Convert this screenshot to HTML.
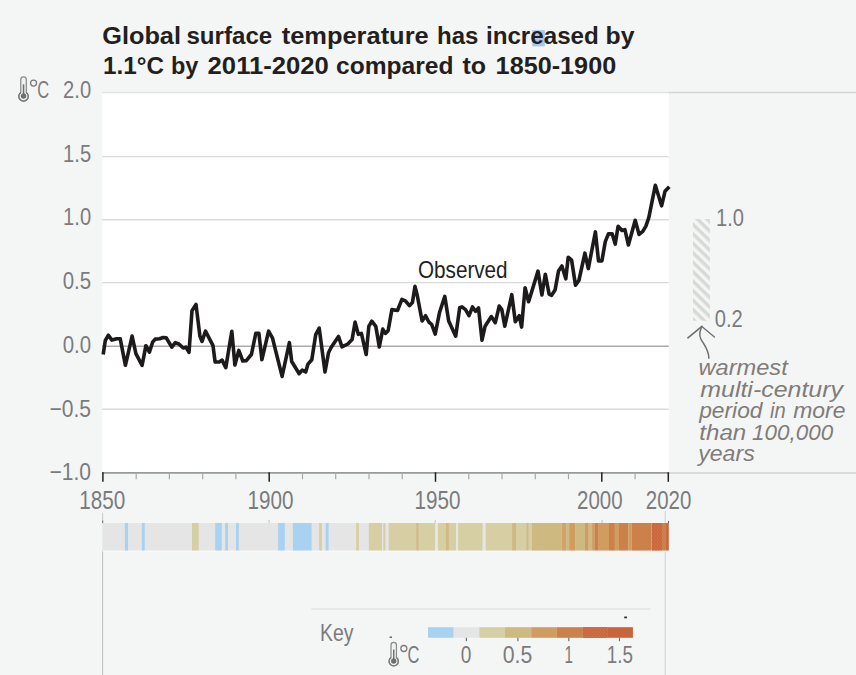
<!DOCTYPE html>
<html><head><meta charset="utf-8"><title>Global surface temperature</title>
<style>
html,body{margin:0;padding:0;background:#f4f6f5;}
body{width:856px;height:675px;overflow:hidden;font-family:"Liberation Sans",sans-serif;}
svg{display:block;}
text{font-family:"Liberation Sans",sans-serif;}
.ax{fill:#7b7b7d;font-size:24px;}
.hand{fill:#817c7a;font-size:22px;font-style:italic;}
.title{fill:#231f20;font-weight:bold;font-size:23px;}
</style></head><body>
<svg width="856" height="675" viewBox="0 0 856 675">
<defs>
<pattern id="hatch" patternUnits="userSpaceOnUse" width="20" height="6.82" patternTransform="translate(693,222.07) rotate(44)">
<rect x="0" y="0" width="20" height="3.4" fill="#d8d8d6"/>
</pattern>
<pattern id="dots" patternUnits="userSpaceOnUse" width="3" height="4" patternTransform="translate(652,523)">
<rect width="3" height="4" fill="#cb653d"/><circle cx="0.8" cy="1" r="0.5" fill="#da9158"/><circle cx="2.3" cy="3" r="0.5" fill="#da9158"/>
</pattern>
</defs>
<rect width="856" height="675" fill="#f4f6f5"/>
<!-- title -->
<rect x="532.3" y="30.2" width="12.5" height="16.2" fill="#a9c5ea"/>
<text class="title" x="102.25" y="44.4" textLength="78.71" lengthAdjust="spacingAndGlyphs">Global</text>
<text class="title" x="186.41" y="44.4" textLength="85.83" lengthAdjust="spacingAndGlyphs">surface</text>
<text class="title" x="281.77" y="44.4" textLength="146.90" lengthAdjust="spacingAndGlyphs">temperature</text>
<text class="title" x="437.13" y="44.4" textLength="41.30" lengthAdjust="spacingAndGlyphs">has</text>
<text class="title" x="485.93" y="44.4" textLength="112.89" lengthAdjust="spacingAndGlyphs">increased</text>
<text class="title" x="605.57" y="44.4" textLength="28.88" lengthAdjust="spacingAndGlyphs">by</text>
<text class="title" x="103.04" y="73.5" textLength="60.91" lengthAdjust="spacingAndGlyphs">1.1°C</text>
<text class="title" x="170.96" y="73.5" textLength="27.42" lengthAdjust="spacingAndGlyphs">by</text>
<text class="title" x="207.62" y="73.5" textLength="121.26" lengthAdjust="spacingAndGlyphs">2011-2020</text>
<text class="title" x="336.07" y="73.5" textLength="117.50" lengthAdjust="spacingAndGlyphs">compared</text>
<text class="title" x="462.46" y="73.5" textLength="23.61" lengthAdjust="spacingAndGlyphs">to</text>
<text class="title" x="495.62" y="73.5" textLength="120.58" lengthAdjust="spacingAndGlyphs">1850-1900</text>
<!-- plot -->
<rect x="102.1" y="92.5" width="566.7" height="380.3" fill="#ffffff"/>

<line x1="102.1" y1="156.6" x2="668.8" y2="156.6" stroke="#dbdbdb" stroke-width="1.4"/>
<line x1="102.1" y1="219.7" x2="668.8" y2="219.7" stroke="#dbdbdb" stroke-width="1.4"/>
<line x1="102.1" y1="282.6" x2="668.8" y2="282.6" stroke="#dbdbdb" stroke-width="1.4"/>
<line x1="102.1" y1="409.3" x2="668.8" y2="409.3" stroke="#dbdbdb" stroke-width="1.4"/>
<line x1="102.1" y1="92.6" x2="668.8" y2="92.6" stroke="#e2e2e2" stroke-width="1.5"/><line x1="668.8" y1="92.6" x2="856" y2="92.6" stroke="#d2d3d3" stroke-width="1.5"/>
<line x1="102.1" y1="346.3" x2="668.8" y2="346.3" stroke="#ababab" stroke-width="1.4"/>
<line x1="102.1" y1="472.8" x2="668.8" y2="472.8" stroke="#999999" stroke-width="1.8"/><line x1="668.8" y1="472.9" x2="856" y2="472.9" stroke="#dadada" stroke-width="2"/>
<line x1="102.9" y1="472.2" x2="102.9" y2="481.8" stroke="#231f20" stroke-width="1.5"/>
<line x1="136.2" y1="472.5" x2="136.2" y2="479.2" stroke="#a8a8a8" stroke-width="1.2"/>
<line x1="169.4" y1="472.5" x2="169.4" y2="479.2" stroke="#a8a8a8" stroke-width="1.2"/>
<line x1="202.7" y1="472.5" x2="202.7" y2="479.2" stroke="#a8a8a8" stroke-width="1.2"/>
<line x1="235.9" y1="472.5" x2="235.9" y2="479.2" stroke="#a8a8a8" stroke-width="1.2"/>
<line x1="269.2" y1="472.2" x2="269.2" y2="481.8" stroke="#231f20" stroke-width="1.5"/>
<line x1="302.5" y1="472.5" x2="302.5" y2="479.2" stroke="#a8a8a8" stroke-width="1.2"/>
<line x1="335.7" y1="472.5" x2="335.7" y2="479.2" stroke="#a8a8a8" stroke-width="1.2"/>
<line x1="369.0" y1="472.5" x2="369.0" y2="479.2" stroke="#a8a8a8" stroke-width="1.2"/>
<line x1="402.2" y1="472.5" x2="402.2" y2="479.2" stroke="#a8a8a8" stroke-width="1.2"/>
<line x1="435.5" y1="472.2" x2="435.5" y2="481.8" stroke="#231f20" stroke-width="1.5"/>
<line x1="468.8" y1="472.5" x2="468.8" y2="479.2" stroke="#a8a8a8" stroke-width="1.2"/>
<line x1="502.0" y1="472.5" x2="502.0" y2="479.2" stroke="#a8a8a8" stroke-width="1.2"/>
<line x1="535.3" y1="472.5" x2="535.3" y2="479.2" stroke="#a8a8a8" stroke-width="1.2"/>
<line x1="568.5" y1="472.5" x2="568.5" y2="479.2" stroke="#a8a8a8" stroke-width="1.2"/>
<line x1="601.8" y1="472.2" x2="601.8" y2="481.8" stroke="#231f20" stroke-width="1.5"/>
<line x1="635.1" y1="472.5" x2="635.1" y2="479.2" stroke="#a8a8a8" stroke-width="1.2"/>
<line x1="668.3" y1="472.2" x2="668.3" y2="481.8" stroke="#231f20" stroke-width="1.5"/>
<polyline points="103.2,354.5 105.3,340.5 108.4,335.2 111.9,340.1 116.6,338.7 120.2,338.7 125.4,365.3 132.1,336.1 135.9,353.6 142.1,365.3 145.9,345.7 149.4,352.2 152.6,342.2 155.2,339.1 159.6,338.7 163.1,337.5 166.2,337.8 171.8,347.1 175.3,342.7 178.9,344.0 183.2,348.0 185.9,347.1 189.0,352.4 192.0,310.7 196.0,304.4 199.9,336.1 202.0,341.3 205.5,331.2 213.0,345.7 215.1,362.0 219.2,362.0 222.1,360.1 225.8,367.6 231.8,331.2 234.9,365.0 238.8,350.4 242.8,361.0 246.3,360.6 251.4,354.5 255.8,333.4 258.9,333.4 261.9,359.7 268.6,331.2 272.4,337.8 282.1,376.4 289.4,342.7 291.7,361.5 299.2,373.7 302.2,370.2 305.7,372.0 308.0,364.1 311.8,359.7 315.7,334.7 319.2,328.2 325.0,372.0 328.5,352.7 331.1,347.5 338.5,336.4 342.0,346.9 347.8,344.0 352.1,339.6 355.1,322.1 358.3,334.3 361.4,333.4 366.2,354.5 368.8,326.4 371.8,321.2 375.8,326.4 379.3,346.9 382.8,329.1 385.4,333.4 388.1,330.8 391.9,309.6 397.5,310.5 401.9,299.4 405.4,300.8 409.4,305.7 412.4,302.6 415.0,286.4 417.1,294.7 422.1,321.0 425.6,315.7 428.7,321.8 431.7,324.5 435.2,334.1 439.6,312.2 444.8,296.4 448.7,321.0 455.7,336.2 459.7,307.8 462.0,306.9 465.5,309.6 469.0,315.7 472.5,306.9 475.5,311.3 478.5,307.8 482.0,340.2 485.1,326.2 491.3,316.6 495.3,322.7 499.2,306.1 501.8,309.6 504.8,326.2 511.8,294.7 515.3,321.8 519.3,315.7 521.6,327.1 525.1,287.7 528.6,301.7 538.0,271.1 541.9,295.0 545.3,274.2 549.1,294.1 551.6,295.3 555.1,289.9 558.5,271.1 561.9,266.0 565.8,278.8 568.2,257.2 571.6,260.1 575.5,285.1 578.9,280.5 584.9,253.2 588.3,268.6 595.4,231.9 598.5,260.9 601.9,260.9 605.3,241.6 608.4,233.9 612.2,233.9 615.2,244.1 618.1,226.2 622.0,230.5 624.9,229.7 628.4,245.0 635.2,220.3 639.1,234.4 642.8,231.4 645.9,226.2 648.8,217.7 655.3,185.3 661.6,205.8 665.0,191.3 669.3,186.7" fill="none" stroke="#1d1a1b" stroke-width="3.6" stroke-linejoin="round" stroke-linecap="butt"/>
<text x="418.0" y="277.8" font-size="24" fill="#231f20" textLength="89.6" lengthAdjust="spacingAndGlyphs">Observed</text>
<!-- y labels -->
<g class="ax" text-anchor="end">
<text x="91.1" y="98.0" textLength="28" lengthAdjust="spacingAndGlyphs">2.0</text>
<text x="91.1" y="161.7" textLength="28" lengthAdjust="spacingAndGlyphs">1.5</text>
<text x="91.1" y="225.4" textLength="28" lengthAdjust="spacingAndGlyphs">1.0</text>
<text x="91.1" y="289.1" textLength="28.4" lengthAdjust="spacingAndGlyphs">0.5</text>
<text x="91.1" y="352.8" textLength="28.4" lengthAdjust="spacingAndGlyphs">0.0</text>
<text x="91.1" y="416.9" textLength="41.6" lengthAdjust="spacingAndGlyphs">−0.5</text>
<text x="91.1" y="480.2" textLength="41.6" lengthAdjust="spacingAndGlyphs">−1.0</text>
</g>
<g transform="translate(18,76.3) scale(1.008)" fill="none">
<path d="M2.75 16.1 V3.35 a2.75 2.75 0 0 1 5.5 0 V16.1 a4.7 4.7 0 1 1 -5.5 0 Z" fill="#f1f2f2" stroke="#8a8a8a" stroke-width="1.25"/>
<path d="M2.75 16.1 a4.7 4.7 0 1 0 5.5 0" stroke="#7a7a7a" stroke-width="1.35"/>
<circle cx="5.5" cy="19.6" r="2.7" fill="#6f6f70"/>
<line x1="5.5" y1="8" x2="5.5" y2="19" stroke="#6f6f70" stroke-width="1.5"/>
</g>
<circle cx="33.55" cy="83.10" r="3.0" fill="none" stroke="#7b7b7d" stroke-width="1.3"/><text class="ax" x="37.20" y="98.1" font-size="25.3" textLength="11.9" lengthAdjust="spacingAndGlyphs">C</text>
<!-- x labels -->
<g class="ax">
<text x="79.3" y="508.6" font-size="25.2" textLength="46" lengthAdjust="spacingAndGlyphs">1850</text>
<text x="247.6" y="508.6" font-size="25.2" textLength="46" lengthAdjust="spacingAndGlyphs">1900</text>
<text x="414.4" y="508.6" font-size="25.2" textLength="46" lengthAdjust="spacingAndGlyphs">1950</text>
<text x="577.1" y="508.6" font-size="25.2" textLength="45.5" lengthAdjust="spacingAndGlyphs">2000</text>
<text x="645.8" y="508.6" font-size="25.2" textLength="45.5" lengthAdjust="spacingAndGlyphs">2020</text>
</g>
<!-- hatched bar -->
<rect x="693" y="219" width="16.9" height="101.8" fill="url(#hatch)"/>
<text class="ax" x="716.0" y="225.6" textLength="28" lengthAdjust="spacingAndGlyphs">1.0</text>
<text class="ax" x="714.8" y="327.1" textLength="28" lengthAdjust="spacingAndGlyphs">0.2</text>
<path d="M687.9 337.8 L701.9 326.4" fill="none" stroke="#726e6f" stroke-width="1.7" stroke-linecap="round"/>
<path d="M701.9 326.4 L714.4 337.0" fill="none" stroke="#726e6f" stroke-width="1.3" stroke-linecap="round"/>
<path d="M701.4 327.6 C698.8 333 700 339 703.3 343 C706.5 348 708.8 352 708.9 358.3" fill="none" stroke="#726e6f" stroke-width="1.4" stroke-linecap="round"/>
<text class="hand" x="698.48" y="375.2" textLength="89.26" lengthAdjust="spacingAndGlyphs">warmest</text>
<text class="hand" x="700.25" y="396.9" textLength="142.76" lengthAdjust="spacingAndGlyphs">multi-century</text>
<text class="hand" x="699.21" y="417.9" textLength="63.22" lengthAdjust="spacingAndGlyphs">period</text>
<text class="hand" x="770.02" y="417.9" textLength="15.72" lengthAdjust="spacingAndGlyphs">in</text>
<text class="hand" x="793.21" y="417.9" textLength="52.35" lengthAdjust="spacingAndGlyphs">more</text>
<text class="hand" x="699.36" y="439.6" textLength="46.87" lengthAdjust="spacingAndGlyphs">than</text>
<text class="hand" x="752.14" y="439.6" textLength="81.22" lengthAdjust="spacingAndGlyphs">100,000</text>
<text class="hand" x="698.17" y="460.9" textLength="56.60" lengthAdjust="spacingAndGlyphs">years</text>
<!-- stripes -->
<line x1="102.6" y1="512.8" x2="102.6" y2="523" stroke="#cfcfcf" stroke-width="1.2"/><line x1="102.6" y1="550" x2="102.6" y2="675" stroke="#c2c2c2" stroke-width="1.1"/>
<line x1="102.7" y1="520.6" x2="102.7" y2="523.2" stroke="#777" stroke-width="1.1"/>
<line x1="665.3" y1="511" x2="665.3" y2="675" stroke="#dbdbdb" stroke-width="1.4"/>
<rect x="102.3" y="523" width="566.6" height="27.8" fill="#e4e5e4"/>
<rect x="124.9" y="523" width="3.1" height="27.8" fill="#a9d1f1"/>
<rect x="141.9" y="523" width="2.8" height="27.8" fill="#a9d1f1"/>
<rect x="192.0" y="523" width="6.7" height="27.8" fill="#d6cfa3"/>
<rect x="215.2" y="523" width="6.6" height="27.8" fill="#a9d1f1"/>
<rect x="225.2" y="523" width="2.8" height="27.8" fill="#a9d1f1"/>
<rect x="236.0" y="523" width="2.8" height="27.8" fill="#a9d1f1"/>
<rect x="278.1" y="523" width="6.7" height="27.8" fill="#a9d1f1"/>
<rect x="292.9" y="523" width="18.7" height="27.8" fill="#a9d1f1"/>
<rect x="319.1" y="523" width="2.8" height="27.8" fill="#d6cfa3"/>
<rect x="325.7" y="523" width="2.9" height="27.8" fill="#a9d1f1"/>
<rect x="356.1" y="523" width="2.8" height="27.8" fill="#d6cfa3"/>
<rect x="368.9" y="523" width="13.1" height="27.8" fill="#d6cfa3"/>
<rect x="383.3" y="523" width="2.1" height="27.8" fill="#d6cfa3"/>
<rect x="388.7" y="523" width="27.5" height="27.8" fill="#d6cfa3"/>
<rect x="416.2" y="523" width="2.6" height="27.8" fill="#d1b983"/>
<rect x="418.8" y="523" width="16.2" height="27.8" fill="#d6cfa3"/>
<rect x="438.0" y="523" width="7.8" height="27.8" fill="#d6cfa3"/>
<rect x="445.8" y="523" width="3.1" height="27.8" fill="#d1b983"/>
<rect x="448.9" y="523" width="7.1" height="27.8" fill="#d6cfa3"/>
<rect x="458.1" y="523" width="24.4" height="27.8" fill="#d6cfa3"/>
<rect x="485.7" y="523" width="26.4" height="27.8" fill="#d6cfa3"/>
<rect x="512.1" y="523" width="3.9" height="27.8" fill="#ceb980"/>
<rect x="516.0" y="523" width="10.3" height="27.8" fill="#d6cfa3"/>
<rect x="526.3" y="523" width="2.5" height="27.8" fill="#ceb980"/>
<rect x="528.8" y="523" width="3.1" height="27.8" fill="#d6cfa3"/>
<rect x="531.9" y="523" width="29.8" height="27.8" fill="#ceb980"/>
<rect x="561.7" y="523" width="4.4" height="27.8" fill="#d5a268"/>
<rect x="566.1" y="523" width="3.1" height="27.8" fill="#ceb980"/>
<rect x="569.2" y="523" width="6.4" height="27.8" fill="#d09c60"/>
<rect x="575.6" y="523" width="9.3" height="27.8" fill="#ceb980"/>
<rect x="584.9" y="523" width="3.8" height="27.8" fill="#d09c60"/>
<rect x="588.7" y="523" width="3.4" height="27.8" fill="#ceb980"/>
<rect x="592.1" y="523" width="2.8" height="27.8" fill="#d09c60"/>
<rect x="594.9" y="523" width="3.8" height="27.8" fill="#cb8149"/>
<rect x="598.7" y="523" width="10.3" height="27.8" fill="#d09c60"/>
<rect x="609.0" y="523" width="5.9" height="27.8" fill="#cb8149"/>
<rect x="614.9" y="523" width="4.1" height="27.8" fill="#d09c60"/>
<rect x="619.0" y="523" width="9.5" height="27.8" fill="#cb8149"/>
<rect x="628.5" y="523" width="3.1" height="27.8" fill="#d09c60"/>
<rect x="631.6" y="523" width="20.1" height="27.8" fill="#cb8149"/>
<rect x="652.0" y="523" width="9.9" height="27.8" fill="#cb653d"/>
<rect x="661.9" y="523" width="4.2" height="27.8" fill="#cb8149"/>
<rect x="666.1" y="523" width="2.8" height="27.8" fill="#c8633b"/>
<rect x="652" y="523" width="9.9" height="27.8" fill="url(#dots)"/>
<path d="M102.3 551.1 H669.3 V523" fill="none" stroke="#fbfcfc" stroke-width="0.8"/>
<line x1="269.1" y1="520" x2="269.1" y2="523" stroke="#c8c8c8" stroke-width="1.2"/>
<line x1="435.2" y1="520" x2="435.2" y2="523" stroke="#c8c8c8" stroke-width="1.2"/>
<line x1="602.1" y1="520" x2="602.1" y2="523" stroke="#c8c8c8" stroke-width="1.2"/>
<line x1="668.5" y1="520.9" x2="668.5" y2="523.2" stroke="#555" stroke-width="0.9"/>
<!-- key -->
<line x1="311.2" y1="609" x2="650.4" y2="609" stroke="#e2e3e2" stroke-width="1.5"/>
<text class="ax" x="320.0" y="640.6" textLength="33.5" lengthAdjust="spacingAndGlyphs">Key</text>
<rect x="389.6" y="636.6" width="2.4" height="1.1" fill="#333"/>
<rect x="624.2" y="616.5" width="2.8" height="1.8" fill="#333"/>
<g transform="translate(388.3,641.7) scale(0.9840000000000001)" fill="none">
<path d="M2.75 16.1 V3.35 a2.75 2.75 0 0 1 5.5 0 V16.1 a4.7 4.7 0 1 1 -5.5 0 Z" fill="#f1f2f2" stroke="#8a8a8a" stroke-width="1.25"/>
<path d="M2.75 16.1 a4.7 4.7 0 1 0 5.5 0" stroke="#7a7a7a" stroke-width="1.35"/>
<circle cx="5.5" cy="19.6" r="2.7" fill="#6f6f70"/>
<line x1="5.5" y1="8" x2="5.5" y2="19" stroke="#6f6f70" stroke-width="1.5"/>
</g>
<circle cx="403.85" cy="648.50" r="3.0" fill="none" stroke="#7b7b7d" stroke-width="1.3"/><text class="ax" x="407.50" y="663.0" font-size="24.6" textLength="11.9" lengthAdjust="spacingAndGlyphs">C</text>
<rect x="428.0" y="627.2" width="25.7" height="10.6" fill="#a9d1f1"/>
<rect x="453.7" y="627.2" width="25.6" height="10.6" fill="#e4e5e4"/>
<rect x="479.3" y="627.2" width="25.7" height="10.6" fill="#d6cfa3"/>
<rect x="505.0" y="627.2" width="26.2" height="10.6" fill="#ceb980"/>
<rect x="531.2" y="627.2" width="25.7" height="10.6" fill="#d09c60"/>
<rect x="556.9" y="627.2" width="26.0" height="10.6" fill="#cb8149"/>
<rect x="582.9" y="627.2" width="24.2" height="10.6" fill="#cb653d"/>
<rect x="607.1" y="627.2" width="25.8" height="10.6" fill="#c8633b"/>
<rect x="582.9" y="627.2" width="24.2" height="10.6" fill="url(#dots)"/>
<g stroke="#6f6f6f" stroke-width="1.2">
<line x1="466.4" y1="637.8" x2="466.4" y2="641.2"/><line x1="517.9" y1="637.8" x2="517.9" y2="641.2"/>
<line x1="568.8" y1="637.8" x2="568.8" y2="641.2"/><line x1="619.5" y1="637.8" x2="619.5" y2="641.2"/>
</g>
<g class="ax">
<text x="460.7" y="662.8" font-size="23" textLength="10.6" lengthAdjust="spacingAndGlyphs">0</text>
<text x="502.8" y="662.8" font-size="23" textLength="29.5" lengthAdjust="spacingAndGlyphs">0.5</text>
<text x="564.6" y="662.8" font-size="23" textLength="8.5" lengthAdjust="spacingAndGlyphs">1</text>
<text x="606.7" y="662.8" font-size="23" textLength="26.2" lengthAdjust="spacingAndGlyphs">1.5</text>
</g>
</svg>
</body></html>
